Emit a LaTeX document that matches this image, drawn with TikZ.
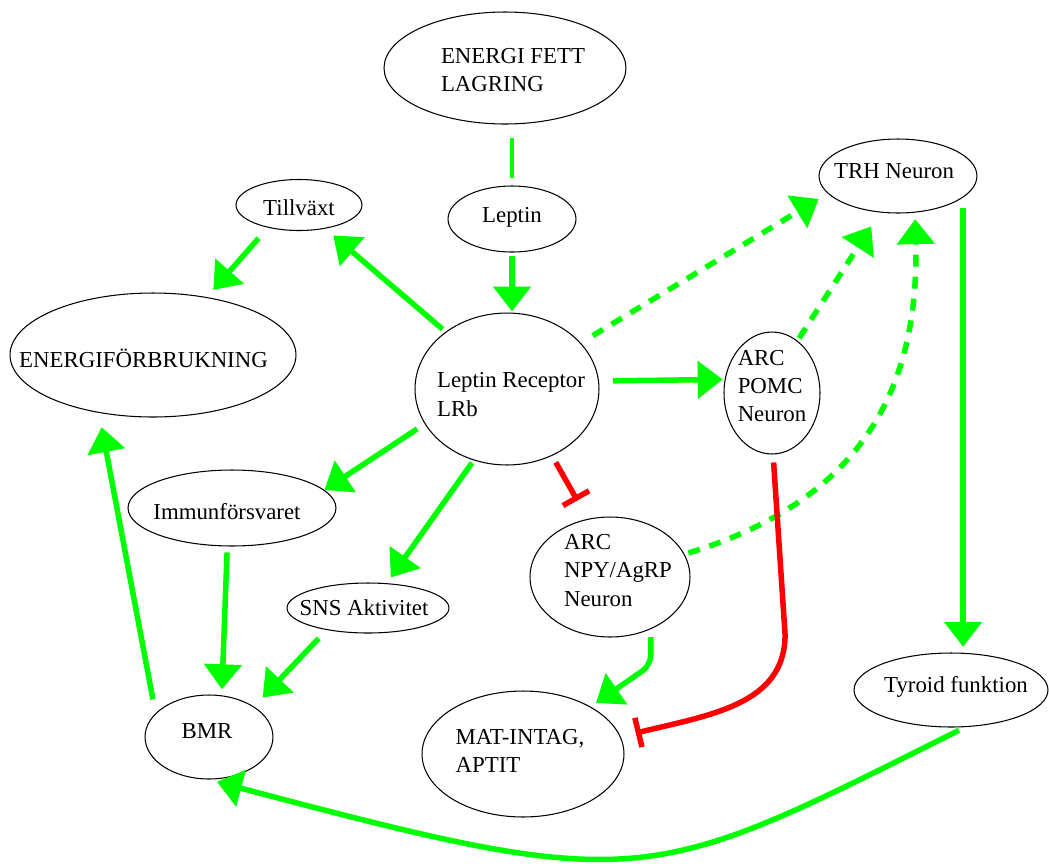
\documentclass[tikz,border=0pt]{standalone}
\usepackage{fontspec}
\setmainfont{Liberation Serif}
\usetikzlibrary{shapes.geometric,arrows.meta}
\definecolor{grn}{RGB}{0,255,0}
\definecolor{rd}{RGB}{255,0,0}
\begin{document}
\begin{tikzpicture}[x=0.02cm,y=-0.02cm,
  ell/.style={ellipse,draw=black,line width=0.6pt,inner sep=0pt},
  lbl/.style={align=left,font=\fontsize{13}{16}\selectfont,inner sep=0pt},
  garrow/.style={draw=grn,line width=0.11cm,-{Triangle[length=0.5cm,width=0.74cm]}},
  gdash/.style={garrow,dash pattern=on 0.24cm off 0.2cm},
  gline/.style={draw=grn,line width=0.09cm},
  rinhib/.style={draw=rd,line width=0.11cm,-{Bar[width=0.6cm]}}
]
\useasboundingbox (0,0) rectangle (1049,863);

% nodes
\node[ell,minimum width=4.84cm,minimum height=2.24cm,
  label={[lbl,xshift=0.16cm,yshift=-0.04cm]center:{ENERGI FETT\\LAGRING}}] (ef) at (505,68) {};
\node[ell,minimum width=2.56cm,minimum height=1.32cm,
  label={[lbl,yshift=0.03cm]center:{Leptin}}] (lep) at (512,219) {};
\node[ell,minimum width=2.52cm,minimum height=1.02cm,
  label={[lbl,yshift=-0.05cm]center:{Tillväxt}}] (til) at (299,205) {};
\node[ell,minimum width=5.72cm,minimum height=2.48cm,
  label={[lbl,xshift=-0.19cm,yshift=-0.07cm]center:{ENERGIFÖRBRUKNING}}] (enf) at (153,355) {};
\node[ell,minimum width=3.68cm,minimum height=3.04cm,
  label={[lbl,xshift=0.08cm,yshift=-0.11cm]center:{Leptin Receptor\\LRb}}] (lrb) at (507,389) {};
\node[ell,minimum width=3.16cm,minimum height=1.48cm,
  label={[lbl,xshift=-0.08cm,yshift=0.09cm]center:{TRH Neuron}}] (trh) at (898,176) {};
\node[ell,minimum width=1.92cm,minimum height=2.44cm,
  label={[lbl,yshift=0.14cm]center:{ARC\\POMC\\Neuron}}] (pomc) at (772,393) {};
\node[ell,minimum width=4.16cm,minimum height=1.52cm,
  label={[lbl,xshift=-0.1cm,yshift=-0.07cm]center:{Immunförsvaret}}] (imm) at (232,508) {};
\node[ell,minimum width=3.24cm,minimum height=1.0cm,
  label={[lbl,xshift=-0.08cm]center:{SNS Aktivitet}}] (sns) at (368,608) {};
\node[ell,minimum width=3.2cm,minimum height=2.4cm,
  label={[lbl,xshift=0.16cm,yshift=0.13cm]center:{ARC\\NPY/AgRP\\Neuron}}] (npy) at (610,577) {};
\node[ell,minimum width=2.56cm,minimum height=1.68cm,
  label={[lbl,xshift=-0.04cm,yshift=0.11cm]center:{BMR}}] (bmr) at (209,737) {};
\node[ell,minimum width=4.04cm,minimum height=2.52cm,
  label={[lbl,xshift=-0.06cm,yshift=0.06cm]center:{MAT-INTAG,\\APTIT}}] (mat) at (523,754) {};
\node[ell,minimum width=3.88cm,minimum height=1.48cm,
  label={[lbl,xshift=0.1cm,yshift=0.06cm]center:{Tyroid funktion}}] (tyr) at (951,690) {};

% connectors
\draw[gline,shorten <=0.26cm,shorten >=0.14cm] (lep.north |- ef.south) -- (lep.north);
\draw[garrow,shorten <=0.06cm,shorten >=0.02cm] (lep.south) -- (lep.south |- lrb.north);
\draw[garrow,shorten <=0.08cm,shorten >=0.21cm] (lrb.137.8) -- (til.-42.3);
\draw[garrow,shorten <=0.28cm,shorten >=0.19cm] (til.-144.5) -- (enf.47.3);
\draw[garrow,shorten <=0.18cm] (lrb.-157.1) -- (imm.11.3);
\draw[garrow,shorten <=0.06cm,shorten >=0.14cm] (lrb.-115.6) -- (sns.53.7);
\draw[rinhib,shorten <=0.15cm,shorten >=0.42cm] (lrb.-56.7) -- (npy.111.3);
\draw[garrow,shorten <=0.28cm,shorten >=0.04cm] (lrb.5.4) -- (pomc.164);
\draw[gdash,shorten <=0.28cm,shorten >=0.21cm] (lrb.32.4) -- (trh.-166.8);
\draw[gdash,shorten <=0.06cm,shorten >=0.33cm] (pomc.64.7) -- (trh.-116.1);
\draw[gdash,shorten <=0.08cm,shorten >=0.13cm] (npy.17) .. controls +(176,-54) and +(4,178) .. (trh.-65.7);
\draw[rinhib,shorten <=0.16cm,shorten >=0.31cm] (pomc.-89) -- ++(12,180) .. controls +(0,70) and +(90,-22) .. (mat.10.6);
\draw[garrow,rounded corners=0.2cm,shorten <=0.16cm,shorten >=0.13cm] (npy.-52) -- ++(0,36) -- (mat.35.3);
\draw[garrow,shorten <=0.1cm,shorten >=0.12cm] (tyr.72 |- trh.-26) -- (tyr.72);
\draw[garrow,shorten <=0.14cm,shorten >=0.18cm] (tyr.-69.6) .. controls +(-318,159) and +(437,116) .. (bmr.-91);
\draw[garrow,shorten <=0.12cm,shorten >=0.12cm] (imm.-97.8) -- (bmr.73.4);
\draw[garrow,shorten <=0.23cm,shorten >=0.25cm] (sns.-152.1) -- (bmr.34);
\draw[garrow,shorten <=0.28cm,shorten >=0.29cm] (bmr.156.3) -- (enf.-133.7);
\end{tikzpicture}
\end{document}
